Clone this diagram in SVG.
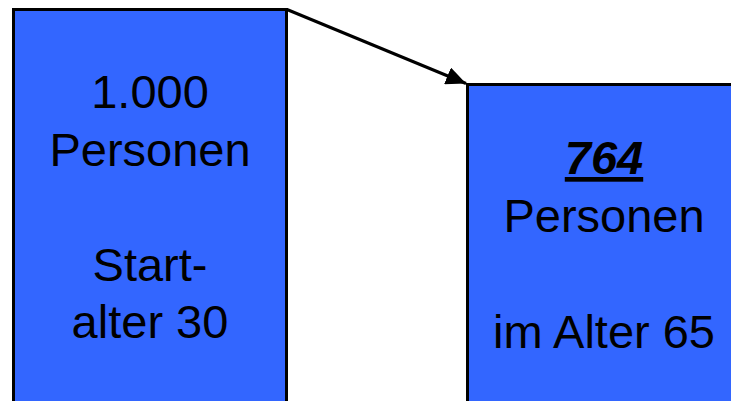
<svg xmlns="http://www.w3.org/2000/svg" width="731" height="401" viewBox="0 0 731 401">
<style>
.box{fill:#3366FF;stroke:#000;stroke-width:3}
.t{font-family:"Liberation Sans",Arial,sans-serif;font-size:47px;fill:#000;text-anchor:middle}
.b{font-weight:bold;font-style:italic;text-decoration:underline}
.c{stroke:#000;stroke-width:3;fill:none}
</style>
<defs>
<marker id="ah" markerUnits="userSpaceOnUse" markerWidth="22" markerHeight="18" refX="20" refY="9" orient="auto">
<path d="M0,0 L20,9 L0,18 Z" fill="#000"/>
</marker>
</defs>
<rect width="731" height="401" fill="#fff"/>
<g id="node-start">
<rect class="box" x="13.5" y="9.5" width="273" height="400"/>
<text class="t" x="150" y="108">1.000</text>
<text class="t" x="150" y="165.5">Personen</text>
<text class="t" x="150" y="281">Start-</text>
<text class="t" x="150" y="338">alter 30</text>
</g>
<g id="node-end">
<rect class="box" x="467.5" y="84.5" width="280" height="330"/>
<text class="t b" x="604" y="174">764</text>
<text class="t" x="604" y="232">Personen</text>
<text class="t" x="604" y="348">im Alter 65</text>
</g>
<g id="connectors">
<line class="c" x1="287" y1="9.5" x2="466" y2="83.5" marker-end="url(#ah)"/>
</g>
</svg>
